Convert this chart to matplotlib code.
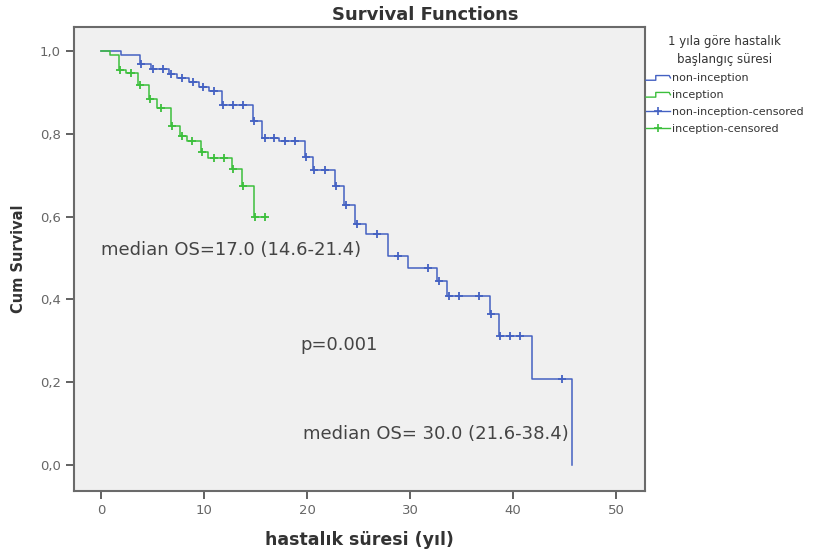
import numpy as np
import matplotlib
matplotlib.use('Agg')
import matplotlib.pyplot as plt
from matplotlib.lines import Line2D
from matplotlib.legend_handler import HandlerBase

# non-inception group (blue)
blue_times = [0, 1.9, 3.8, 4.8, 6.6, 7.4, 8.5, 9.5, 10.5, 11.7, 14.7, 15.6, 17.3,
              19.8, 20.6, 22.7, 23.6, 24.6, 25.7, 27.8, 29.8, 32.6, 33.6, 37.7,
              38.6, 41.8, 45.7]
blue_surv = [1.0, 0.99, 0.969, 0.956, 0.944, 0.934, 0.924, 0.914, 0.904, 0.870,
             0.830, 0.790, 0.782, 0.745, 0.713, 0.673, 0.629, 0.581, 0.559, 0.504,
             0.476, 0.444, 0.408, 0.364, 0.312, 0.207, 0.0]
blue_cens = [3.9, 5.0, 6.0, 6.8, 7.8, 8.9, 9.9, 10.9, 11.8, 12.8, 13.8, 14.8, 15.9,
             16.8, 17.8, 18.8, 19.9, 20.7, 21.7, 22.8, 23.8, 24.8, 26.8, 28.8,
             31.7, 32.8, 33.8, 34.7, 36.7, 37.8, 38.7, 39.7, 40.7, 44.7]

# inception group (green)
green_times = [0, 0.8, 1.7, 2.4, 3.6, 4.6, 5.4, 6.8, 7.6, 8.3, 9.7, 10.4, 12.7,
               13.7, 14.8, 16.0]
green_surv = [1.0, 0.99, 0.954, 0.946, 0.918, 0.884, 0.862, 0.818, 0.794, 0.782,
              0.755, 0.742, 0.716, 0.673, 0.599, 0.599]
green_cens = [1.8, 2.9, 3.8, 4.7, 5.8, 6.9, 7.8, 8.8, 9.8, 10.9, 11.9, 12.8, 13.8,
              14.9, 15.9]

labels = ['non-inception', 'inception', 'non-inception-censored', 'inception-censored']
legend_title = '1 yıla göre hastalık\nbaşlangıç süresi'

blue = '#4461c2'
green = '#3cbf3c'


def surv_at(times, surv, t):
    idx = np.searchsorted(times, t, side='right') - 1
    return np.array(surv)[idx]


class StepHandler(HandlerBase):
    def create_artists(self, legend, orig_handle, xdescent, ydescent,
                       width, height, fontsize, trans):
        x0, y0 = -xdescent, -ydescent
        xs = [x0, x0 + 0.4 * width, x0 + 0.4 * width, x0 + 0.95 * width, x0 + width]
        ys = [y0 + 0.15 * height, y0 + 0.15 * height, y0 + 0.75 * height,
              y0 + 0.75 * height, y0 + 0.45 * height]
        line = Line2D(xs, ys, color=orig_handle.get_color(), lw=1)
        line.set_transform(trans)
        return [line]


fig = plt.figure(figsize=(8.4, 5.52), dpi=100)
ax = fig.add_axes([74 / 840, 1 - 491 / 552, 571 / 840, 464 / 552])
ax.set_facecolor('#f0f0f0')

h1, = ax.step(blue_times, blue_surv, where='post', color=blue, lw=1.1)
h2, = ax.step(green_times, green_surv, where='post', color=green, lw=1.1)
ax.plot(blue_cens, surv_at(blue_times, blue_surv, blue_cens), '+',
        color=blue, ms=6, mew=1.3)
ax.plot(green_cens, surv_at(green_times, green_surv, green_cens), '+',
        color=green, ms=6, mew=1.3)
h3 = Line2D([], [], color=blue, lw=1, marker='+', ms=6, mew=1.2)
h4 = Line2D([], [], color=green, lw=1, marker='+', ms=6, mew=1.2)

ax.set_xlim(-2.65, 52.8)
ax.set_ylim(-0.063, 1.058)
ax.set_xticks([0, 10, 20, 30, 40, 50])
ax.set_yticks([0, 0.2, 0.4, 0.6, 0.8, 1.0])
ax.set_yticklabels(['0,0', '0,2', '0,4', '0,6', '0,8', '1,0'])
ax.tick_params(direction='out', length=6, width=1.3, colors='#555555',
               labelsize=9.5, labelcolor='#666666')
for sp in ax.spines.values():
    sp.set_color('#6a6a6a')
    sp.set_linewidth(1.5)

ax.set_xlabel('hastalık süresi (yıl)', fontsize=12.5, fontweight='bold',
              color='#333333', labelpad=10)
ax.set_ylabel('Cum Survival', fontsize=10.5, fontweight='bold',
              color='#333333', labelpad=10)
fig.text(0.506, 0.973, 'Survival Functions', ha='center', va='center',
         fontsize=13, fontweight='bold', color='#333333')

ax.text(0.0, 0.52, 'median OS=17.0 (14.6-21.4)', fontsize=13, color='#444444',
        va='center')
ax.text(19.3, 0.29, 'p=0.001', fontsize=13, color='#444444', va='center')
ax.text(19.6, 0.075, 'median OS= 30.0 (21.6-38.4)', fontsize=13, color='#444444',
        va='center')

leg = fig.legend([h1, h2, h3, h4], labels, title=legend_title,
                 loc='upper left', bbox_to_anchor=(646 / 840, 1 - 35 / 552),
                 frameon=False, fontsize=8, title_fontsize=8.5,
                 handlelength=2.2, handletextpad=0.1, labelspacing=0.62,
                 borderaxespad=0, borderpad=0,
                 handler_map={h1: StepHandler(), h2: StepHandler()})
leg.get_title().set_multialignment('center')
leg.get_title().set_linespacing(1.55)
leg.get_title().set_color('#333333')
for t in leg.get_texts():
    t.set_color('#333333')

fig.savefig('out.png', dpi=100)
